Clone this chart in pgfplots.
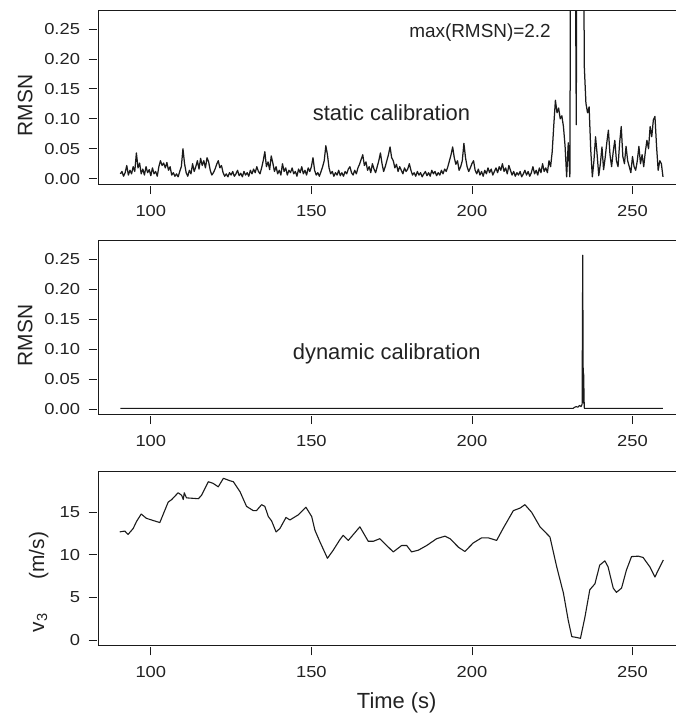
\documentclass[border=0pt]{standalone}
\usepackage{fontspec}
\setmainfont{Liberation Sans}
\newfontfamily\tickfont{Liberation Sans}[FakeStretch=1.15]
\usepackage{pgfplots}
\pgfplotsset{compat=1.18}
\definecolor{ink}{HTML}{1A1A1A}
\definecolor{txt}{HTML}{222222}
\pgfplotsset{
  rpanel/.style={
    scale only axis,
    width=586.3bp,
    anchor=south west,
    xmin=83.7, xmax=266.3,
    axis line style={ink, line width=0.9bp},
    tick align=outside,
    major tick length=8bp,
    tick style={ink, line width=0.8bp},
    xtick style={yshift=-2.2bp},
    ytick style={xshift=-2bp},
    xtick={100,150,200,250},
    xtick pos=bottom, ytick pos=left,
    minor tick num=0,
    /pgf/number format/assume math mode=true,
    ticklabel style={font=\tickfont\fontsize{16}{16}\selectfont, text=txt},
    xticklabel style={yshift=-10bp},
    yticklabel style={xshift=-7bp},
  },
}
\begin{document}
\begin{tikzpicture}[x=1bp,y=1bp]
\useasboundingbox (0,0) rectangle (676,713);
% ---------------- panel 1: static calibration ----------------
\begin{axis}[rpanel, at={(98.5bp,529bp)}, height=173.3bp,
  ymin=-0.0089, ymax=0.2806,
  ytick={0,0.05,0.10,0.15,0.20,0.25},
  yticklabel style={/pgf/number format/.cd, fixed, fixed zerofill, precision=2}]
\addplot[ink, line width=1.25bp, line join=round, mark=none] table {
90.5 0.008
91.0 0.012
91.5 0.004
92.0 0.010
92.5 0.022
93.0 0.006
93.5 0.014
94.0 0.008
94.5 0.020
95.0 0.012
95.5 0.043
96.0 0.018
96.5 0.026
97.0 0.008
97.5 0.016
98.0 0.006
98.5 0.020
99.0 0.010
99.5 0.015
100.0 0.005
100.5 0.018
101.0 0.008
101.5 0.012
102.0 0.004
102.5 0.020
103.0 0.030
103.5 0.022
104.0 0.026
104.5 0.018
105.0 0.027
105.5 0.014
106.0 0.020
106.5 0.006
107.0 0.010
107.5 0.004
108.0 0.008
108.5 0.003
109.0 0.012
109.5 0.020
110.0 0.050
110.5 0.025
111.0 0.010
111.5 0.004
112.0 0.014
112.5 0.008
113.0 0.025
113.5 0.012
114.0 0.020
114.5 0.030
115.0 0.016
115.5 0.034
116.0 0.022
116.5 0.030
117.0 0.018
117.5 0.035
118.0 0.028
118.5 0.014
119.0 0.006
119.5 0.010
120.0 0.016
120.5 0.024
121.0 0.030
121.5 0.018
122.0 0.022
122.5 0.010
123.0 0.004
123.5 0.008
124.0 0.003
124.5 0.010
125.0 0.006
125.5 0.012
126.0 0.004
126.5 0.008
127.0 0.014
127.5 0.005
128.0 0.009
128.5 0.003
129.0 0.012
129.5 0.006
130.0 0.010
130.5 0.004
131.0 0.014
131.5 0.008
132.0 0.016
132.5 0.010
133.0 0.020
133.5 0.012
134.0 0.008
134.5 0.018
135.0 0.030
135.5 0.045
136.0 0.020
136.5 0.028
137.0 0.015
137.5 0.038
138.0 0.026
138.5 0.012
139.0 0.020
139.5 0.008
140.0 0.014
140.5 0.006
141.0 0.025
141.5 0.012
142.0 0.018
142.5 0.006
143.0 0.014
143.5 0.010
144.0 0.018
144.5 0.008
145.0 0.012
145.5 0.004
146.0 0.016
146.5 0.010
147.0 0.020
147.5 0.008
148.0 0.014
148.5 0.006
149.0 0.018
149.5 0.012
150.0 0.020
150.5 0.035
151.0 0.014
151.5 0.006
152.0 0.010
152.5 0.004
153.0 0.012
153.5 0.020
154.0 0.030
154.5 0.055
155.0 0.040
155.5 0.018
156.0 0.008
156.5 0.012
157.0 0.004
157.5 0.010
158.0 0.006
158.5 0.014
159.0 0.005
159.5 0.010
160.0 0.004
160.5 0.012
161.0 0.008
161.5 0.016
162.0 0.020
162.5 0.010
163.0 0.006
163.5 0.014
164.0 0.008
164.5 0.018
165.0 0.024
165.5 0.032
166.0 0.040
166.5 0.022
167.0 0.028
167.5 0.014
168.0 0.020
168.5 0.010
169.0 0.025
169.5 0.016
170.0 0.010
170.5 0.020
171.0 0.030
171.5 0.043
172.0 0.025
172.5 0.012
173.0 0.020
173.5 0.030
174.0 0.040
174.5 0.053
175.0 0.035
175.5 0.030
176.0 0.018
176.5 0.024
177.0 0.012
177.5 0.020
178.0 0.014
178.5 0.008
179.0 0.018
179.5 0.012
180.0 0.016
180.5 0.025
181.0 0.014
181.5 0.006
182.0 0.010
182.5 0.004
183.0 0.012
183.5 0.006
184.0 0.010
184.5 0.003
185.0 0.008
185.5 0.012
186.0 0.005
186.5 0.010
187.0 0.004
187.5 0.014
188.0 0.008
188.5 0.012
189.0 0.005
189.5 0.010
190.0 0.006
190.5 0.014
191.0 0.008
191.5 0.016
192.0 0.012
192.5 0.020
193.0 0.030
193.5 0.040
194.0 0.053
194.5 0.035
195.0 0.024
195.5 0.030
196.0 0.014
196.5 0.020
197.0 0.030
197.5 0.059
198.0 0.035
198.5 0.020
199.0 0.012
199.5 0.018
200.0 0.025
200.5 0.030
201.0 0.014
201.5 0.008
202.0 0.016
202.5 0.006
203.0 0.012
203.5 0.004
204.0 0.014
204.5 0.008
205.0 0.018
205.5 0.010
206.0 0.016
206.5 0.006
207.0 0.012
207.5 0.018
208.0 0.010
208.5 0.020
209.0 0.014
209.5 0.025
210.0 0.012
210.5 0.018
211.0 0.008
211.5 0.022
212.0 0.014
212.5 0.006
213.0 0.012
213.5 0.004
214.0 0.010
214.5 0.006
215.0 0.012
215.5 0.003
216.0 0.008
216.5 0.014
217.0 0.006
217.5 0.012
218.0 0.004
218.5 0.010
219.0 0.020
219.5 0.008
220.0 0.014
220.5 0.006
221.0 0.018
221.5 0.010
222.0 0.025
222.5 0.012
223.0 0.018
223.5 0.010
224.0 0.030
224.5 0.020
225.0 0.045
225.5 0.090
226.0 0.131
226.5 0.110
227.0 0.118
227.5 0.100
228.0 0.105
228.5 0.087
229.0 0.055
229.5 0.003
230.0 0.060
230.5 0.003
231.0 0.900
231.5 2.200
232.0 0.600
232.5 0.090
233.0 1.400
233.5 0.500
234.0 1.800
234.5 0.700
235.0 0.187
235.5 0.126
236.0 0.110
236.5 0.120
237.0 0.048
237.5 0.003
238.0 0.030
238.5 0.070
239.0 0.040
239.5 0.005
240.0 0.025
240.5 0.053
241.0 0.015
241.5 0.035
242.0 0.060
242.5 0.081
243.0 0.040
243.5 0.020
244.0 0.045
244.5 0.064
245.0 0.030
245.5 0.020
246.0 0.060
246.5 0.087
247.0 0.037
247.5 0.025
248.0 0.054
248.5 0.030
249.0 0.020
249.5 0.010
250.0 0.037
250.5 0.020
251.0 0.014
251.5 0.030
252.0 0.054
252.5 0.025
253.0 0.040
253.5 0.020
254.0 0.045
254.5 0.064
255.0 0.050
255.5 0.087
256.0 0.070
256.5 0.098
257.0 0.104
257.5 0.054
258.0 0.014
258.5 0.030
259.0 0.025
259.5 0.003
};
\end{axis}
% ---------------- panel 2: dynamic calibration ----------------
\begin{axis}[rpanel, at={(98.5bp,299bp)}, height=173.3bp,
  ymin=-0.0083, ymax=0.2811,
  ytick={0,0.05,0.10,0.15,0.20,0.25},
  yticklabel style={/pgf/number format/.cd, fixed, fixed zerofill, precision=2}]
\addplot[ink, line width=1.1bp, line join=round, mark=none] table {
90.5 0.001
231.5 0.001
232.0 0.003
232.5 0.004
233.0 0.003
233.5 0.006
234.0 0.004
234.3 0.008
234.5 0.257
234.7 0.010
234.8 0.060
235.0 0.001
259.5 0.001
};
\end{axis}
% ---------------- panel 3: v3 ----------------
\begin{axis}[rpanel, at={(98.5bp,67.7bp)}, height=174bp,
  ymin=-0.62, ymax=19.82,
  ytick={0,5,10,15}]
\addplot[ink, line width=1.1bp, line join=round, mark=none] table {
90.3 12.7
91.9 12.8
92.9 12.4
94.5 13.1
95.5 13.9
97.0 14.8
98.6 14.3
100.2 14.1
102.8 13.8
105.4 16.2
106.5 16.5
108.5 17.3
109.6 17.0
110.1 16.5
110.4 17.3
111.1 16.7
114.8 16.6
115.8 17.0
117.9 18.6
119.4 18.4
121.0 18.0
122.6 19.0
124.7 18.7
125.7 18.6
127.8 17.4
129.8 15.7
131.9 15.2
132.9 15.2
134.5 15.9
135.5 15.7
136.6 14.5
137.6 14.0
139.0 12.7
140.2 13.1
142.1 14.4
143.3 14.1
145.9 14.7
148.3 15.6
150.1 14.5
151.1 12.9
152.7 11.5
155.0 9.6
156.8 10.55
158.9 11.8
159.9 12.3
161.5 11.7
165.1 13.3
167.7 11.6
169.3 11.6
171.3 11.9
172.9 11.3
175.5 10.35
178.1 11.1
179.7 11.1
181.2 10.35
183.3 10.55
185.9 11.1
189.0 11.9
191.6 12.2
193.2 11.9
195.8 10.9
197.8 10.4
200.4 11.4
203.0 12.0
205.1 12.0
207.7 11.7
209.7 13.1
212.9 15.2
215.0 15.5
216.5 15.9
218.6 15.0
221.2 13.3
224.3 12.1
226.4 8.6
228.5 5.5
230.0 2.3
231.1 0.4
232.6 0.3
233.8 0.2
235.2 2.7
236.7 5.9
238.3 6.6
239.8 8.8
241.4 9.3
242.4 8.6
244.0 6.1
245.0 5.6
246.6 6.1
248.1 8.2
249.7 9.8
251.8 9.85
253.3 9.7
255.4 8.6
257.0 7.4
258.0 8.2
259.6 9.4
};
\end{axis}
% ---------------- texts ----------------
\begin{scope}[every node/.style={text=txt, inner sep=0pt}]
\node[anchor=base, font=\fontsize{22}{22}\selectfont] at (391.5,592.3) {static calibration};
\node[anchor=base, font=\fontsize{22}{22}\selectfont] at (386.7,353.7) {dynamic calibration};
\node[anchor=base, font=\fontsize{19}{19}\selectfont] at (480,675.3) {max(RMSN)=2.2};
\node[anchor=base, rotate=90, font=\fontsize{21}{21}\selectfont] at (32.3,607.5) {RMSN};
\node[anchor=base, rotate=90, font=\fontsize{21}{21}\selectfont] at (32.3,377.5) {RMSN};
\node[anchor=base, rotate=90, font=\fontsize{21}{21}\selectfont] at (44,131) {v\textsubscript{3}\hspace{1.6em}(m/s)};
\node[anchor=base, font=\fontsize{22}{22}\selectfont] at (396.7,4.7) {Time (s)};
\end{scope}
\end{tikzpicture}
\end{document}
